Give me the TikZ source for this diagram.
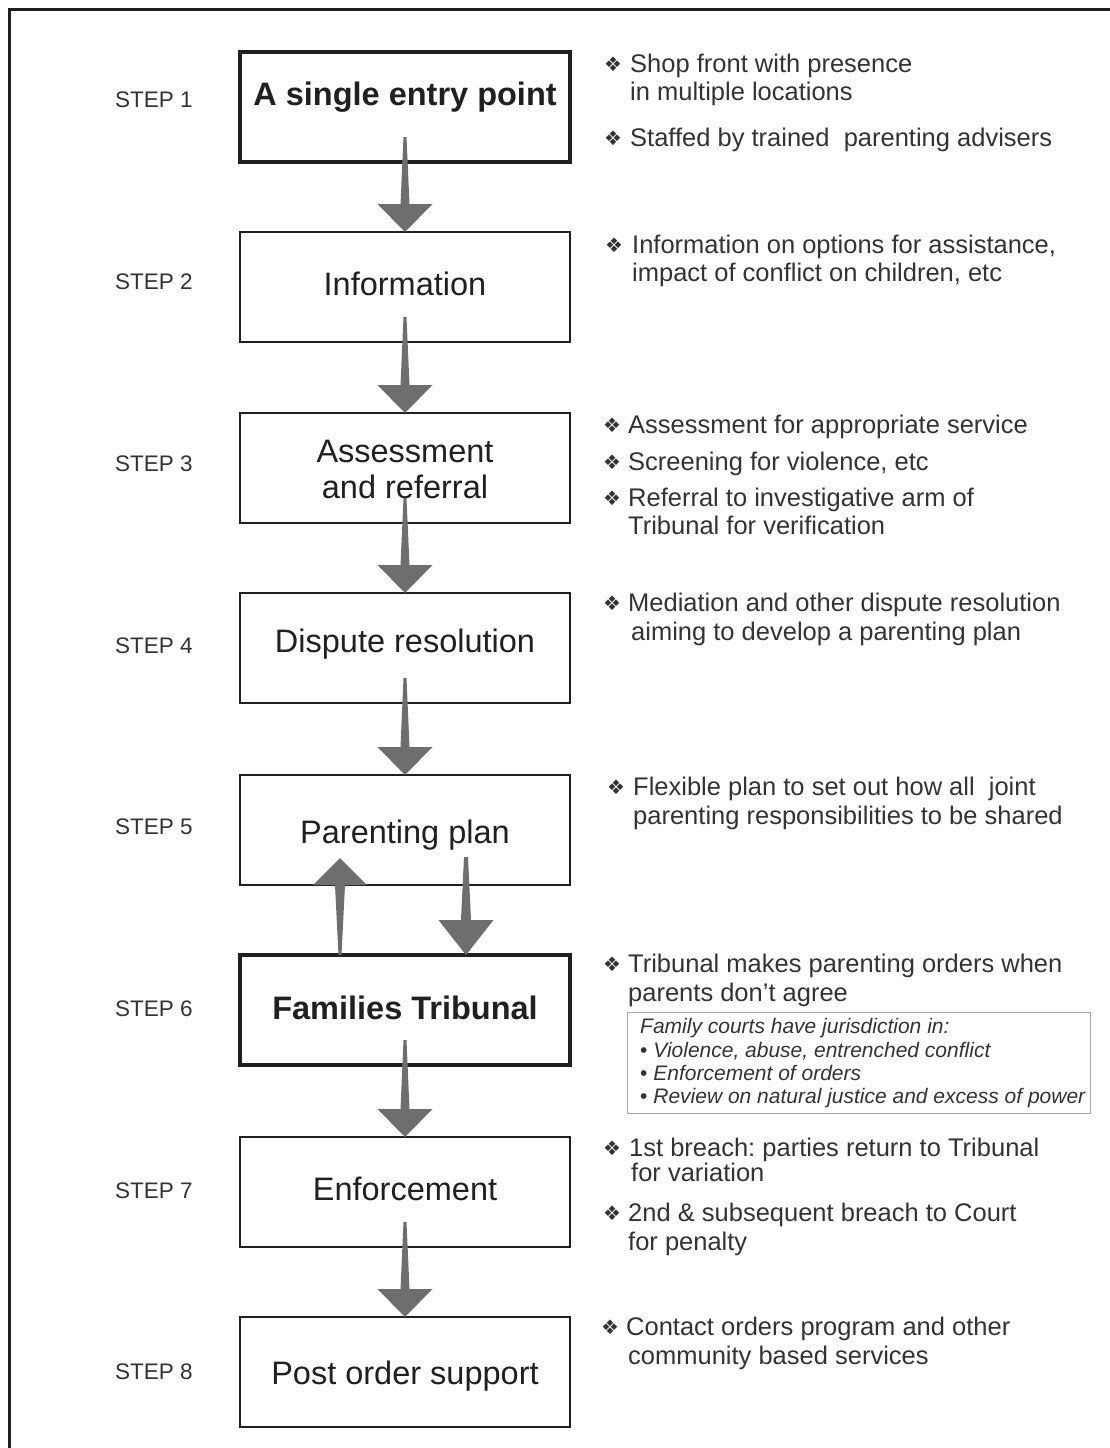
\documentclass[tikz,border=0pt]{standalone}
\usepackage{fontspec}
\setmainfont{Liberation Sans}
\newfontfamily\dejavu{DejaVu Sans}
\usetikzlibrary{calc}
\frenchspacing
\definecolor{arrowgray}{HTML}{6E6E6E}
\definecolor{ink}{HTML}{202020}
\definecolor{labelink}{HTML}{333333}
\definecolor{notegray}{HTML}{A8A8A8}
\tikzset{
  stepbox/.style={draw=ink, line width=2.5pt, minimum width=330pt, minimum height=110pt, anchor=north west, inner sep=0pt, outer sep=0pt},
  keybox/.style={stepbox, line width=4.5pt},
  boxtext/.style={font=\fontsize{32.5}{36}\selectfont, text=ink, align=center, inner sep=0pt},
  boldboxtext/.style={boxtext, font=\bfseries\fontsize{32.5}{36}\selectfont},
  steplabel/.style={font=\fontsize{22.5}{24}\selectfont, text=labelink, anchor=west, inner sep=0pt},
  itemtext/.style={font=\fontsize{25.5}{29}\selectfont, text=labelink, anchor=base west, inner sep=0pt},
  itemmark/.style={font=\dejavu\fontsize{20}{22}\selectfont, text=labelink, anchor=base, inner sep=0pt},
  notetext/.style={font=\itshape\fontsize{21}{23}\selectfont, text=labelink, anchor=base west, inner sep=0pt},
  notebox/.style={draw=notegray, line width=1pt, minimum width=463pt, minimum height=101pt, anchor=north west, inner sep=0pt, outer sep=0pt}
}
\newcommand{\flowdown}[2]{%
  \path (#1.south) ++(0,-25) coordinate (fs);
  \fill[arrowgray] ($(fs)+(-1.5,0)$) -- ($(fs)+(1.5,0)$) -- ($(#2.north)+(4.5,-28)$) -- ($(#2.north)+(27.5,-28)$) -- (#2.north) -- ($(#2.north)+(-27.5,-28)$) -- ($(#2.north)+(-4.5,-28)$) -- cycle;}
\begin{document}
\begin{tikzpicture}[x=1pt,y=-1pt]
\useasboundingbox (0,0) rectangle (1110,1448);
\fill[white] (0,0) rectangle (1110,1448);
% frame (right and bottom edges lie outside the picture)
\draw[ink, line width=3pt] (9,1448) -- (9,9) -- (1110,9);

% boxes
\node[keybox]  (b1) at (240,52)   {};
\node[stepbox] (b2) at (240,232)  {};
\node[stepbox] (b3) at (240,413)  {};
\node[stepbox] (b4) at (240,593)  {};
\node[stepbox] (b5) at (240,775)  {};
\node[keybox]  (b6) at (240,955)  {};
\node[stepbox] (b7) at (240,1137) {};
\node[stepbox] (b8) at (240,1317) {};

% box texts
\node[boldboxtext] (t1) at (405,97) {A single entry point};
\node[boxtext] (t2) at (405,284) {Information};
\node[boxtext] (t3a) at (405,451) {Assessment};
\node[boxtext] (t3b) at (405,487) {and referral};
\node[boxtext] (t4) at (405,644) {Dispute resolution};
\node[boxtext] (t5) at (405,835) {Parenting plan};
\node[boldboxtext] (t6) at (405,1008) {Families Tribunal};
\node[boxtext] (t7) at (405,1189) {Enforcement};
\node[boxtext] (t8) at (405,1376) {Post order support};

% step labels
\node[steplabel] (s1) at (115,100)  {STEP 1};
\node[steplabel] (s2) at (115,282)  {STEP 2};
\node[steplabel] (s3) at (115,464)  {STEP 3};
\node[steplabel] (s4) at (115,646)  {STEP 4};
\node[steplabel] (s5) at (115,827)  {STEP 5};
\node[steplabel] (s6) at (115,1009) {STEP 6};
\node[steplabel] (s7) at (115,1191) {STEP 7};
\node[steplabel] (s8) at (115,1372) {STEP 8};

% arrows
\flowdown{b1}{b2}
\flowdown{b2}{b3}
\flowdown{b3}{b4}
\flowdown{b4}{b5}
\flowdown{b6}{b7}
\flowdown{b7}{b8}
% up arrow from Families Tribunal back to Parenting plan
\fill[arrowgray] ($(b6.north)+(-66.5,0)$) -- ($(b6.north)+(-63.5,0)$) -- ($(b5.south)+(-60,0)$) -- ($(b5.south)+(-38,0)$) -- ($(b5.south)+(-65,-27)$) -- ($(b5.south)+(-92,0)$) -- ($(b5.south)+(-70,0)$) -- cycle;
% down arrow from Parenting plan to Families Tribunal
\fill[arrowgray] ($(b5.south)+(59,-28)$) -- ($(b5.south)+(63,-28)$) -- ($(b6.north)+(66,-35)$) -- ($(b6.north)+(88.5,-35)$) -- ($(b6.north)+(61,0)$) -- ($(b6.north)+(33.5,-35)$) -- ($(b6.north)+(56,-35)$) -- cycle;

% right-hand items
\node[itemmark] (m1a) at (613,71) {❖};
\node[itemtext] (r1a) at (630,72) {Shop front with presence};
\node[itemtext] (r1b) at (630,100) {in multiple locations};
\node[itemmark] (m1b) at (613,145) {❖};
\node[itemtext] (r1c) at (630,146) {Staffed by trained\ \ parenting advisers};

\node[itemmark] (m2a) at (614,252) {❖};
\node[itemtext] (r2a) at (632,253) {Information on options for assistance,};
\node[itemtext] (r2b) at (632,281) {impact of conflict on children, etc};

\node[itemmark] (m3a) at (612,432) {❖};
\node[itemtext] (r3a) at (628,433) {Assessment for appropriate service};
\node[itemmark] (m3b) at (612,469) {❖};
\node[itemtext] (r3b) at (628,470) {Screening for violence, etc};
\node[itemmark] (m3c) at (612,505) {❖};
\node[itemtext] (r3c) at (628,506) {Referral to investigative arm of};
\node[itemtext] (r3d) at (628,534) {Tribunal for verification};

\node[itemmark] (m4a) at (612,610) {❖};
\node[itemtext] (r4a) at (628,611) {Mediation and other dispute resolution};
\node[itemtext] (r4b) at (631,640) {aiming to develop a parenting plan};

\node[itemmark] (m5a) at (616,794) {❖};
\node[itemtext] (r5a) at (633,795) {Flexible plan to set out how all\ \ joint};
\node[itemtext] (r5b) at (633,824) {parenting responsibilities to be shared};

\node[itemmark] (m6a) at (612,971) {❖};
\node[itemtext] (r6a) at (628,972) {Tribunal makes parenting orders when};
\node[itemtext] (r6b) at (628,1001) {parents don\char"0027 t agree};

\node[notebox] (note) at (627,1012) {};
\node[notetext] (n1) at (640,1033) {Family courts have jurisdiction in:};
\node[notetext] (n2) at (640,1057) {\upshape•\itshape\ Violence, abuse, entrenched conflict};
\node[notetext] (n3) at (640,1080) {\upshape•\itshape\ Enforcement of orders};
\node[notetext] (n4) at (640,1103) {\upshape•\itshape\ Review on natural justice and excess of power};

\node[itemmark] (m7a) at (612,1155) {❖};
\node[itemtext] (r7a) at (629,1156) {1st breach: parties return to Tribunal};
\node[itemtext] (r7b) at (631,1181) {for variation};
\node[itemmark] (m7b) at (612,1220) {❖};
\node[itemtext] (r7c) at (628,1221) {2nd \& subsequent breach to Court};
\node[itemtext] (r7d) at (628,1250) {for penalty};

\node[itemmark] (m8a) at (610,1334) {❖};
\node[itemtext] (r8a) at (626,1335) {Contact orders program and other};
\node[itemtext] (r8b) at (628,1364) {community based services};
\end{tikzpicture}
\end{document}
